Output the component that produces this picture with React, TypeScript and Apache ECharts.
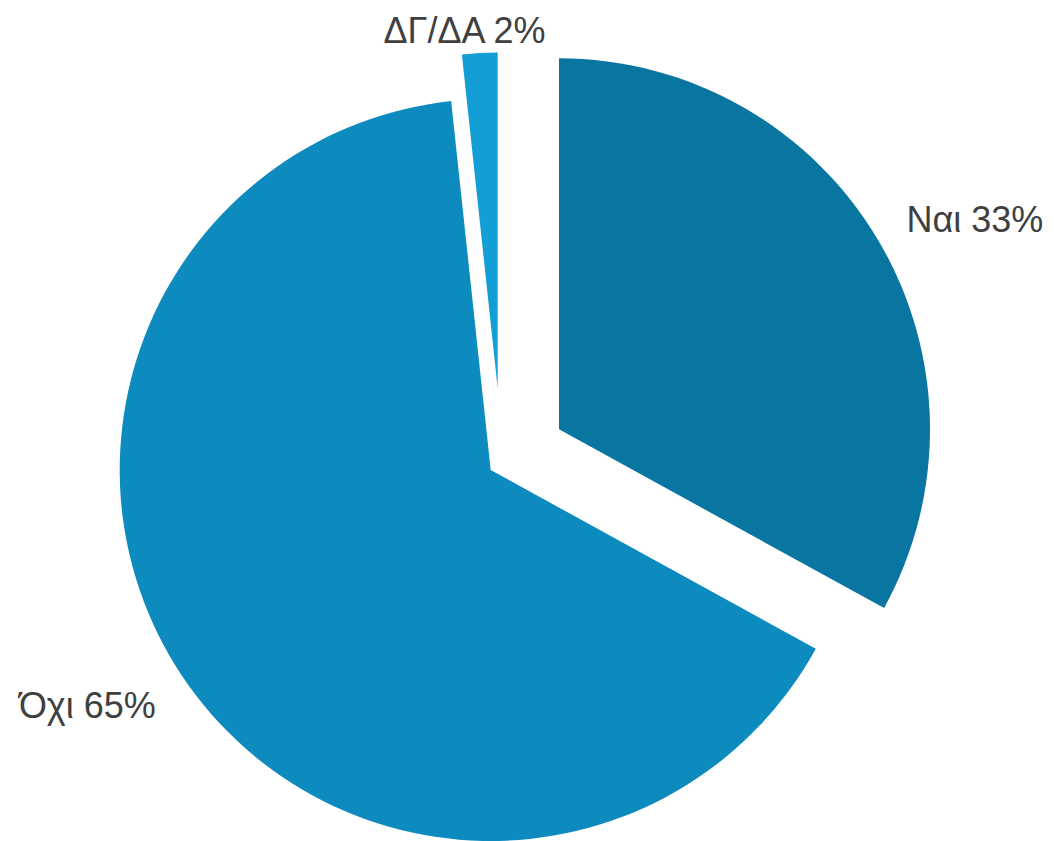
import React, { useEffect, useRef } from "react";
import * as echarts from "echarts";

const categories = ["Ναι", "Όχι", "ΔΓ/ΔΑ"];
const values = [33, 65.3, 1.7];
const colors = ["#0975a1", "#0e8bbe", "#139ed6"];

// per-slice layout (exploded pie: each slice drawn by its own series)
const centers: [number, number][] = [
  [559, 429.3],
  [490.7, 470],
  [497.7, 388.5],
];
const radii = [371, 371, 336];
const lineLen = [42, 53, 23];
const lineLen2 = [-13, -23, -72];

export default function App() {
  const ref = useRef<HTMLDivElement>(null);
  useEffect(() => {
    if (!ref.current) return;
    const chart = echarts.init(ref.current, undefined, { renderer: "svg" });
    const series = categories.map((_, s) => ({
      type: "pie",
      silent: true,
      center: centers[s],
      radius: radii[s],
      startAngle: 90,
      clockwise: true,
      avoidLabelOverlap: false,
      percentPrecision: 0,
      itemStyle: { borderWidth: 0 },
      labelLine: { show: false, length: lineLen[s], length2: lineLen2[s] },
      label: {
        show: true,
        position: "outside",
        alignTo: "none",
        formatter: "{b} {d}%",
        fontFamily: "Liberation Sans",
        fontSize: 36,
        color: "#404040",
      },
      emphasis: { disabled: true },
      data: categories.map((name, i) => ({
        name,
        value: values[i],
        itemStyle: { color: i === s ? colors[i] : "rgba(0,0,0,0)" },
        label: { show: i === s },
      })),
    }));
    chart.setOption({
      animation: false,
      backgroundColor: "#ffffff",
      series,
    });
    return () => chart.dispose();
  }, []);
  return (
    <div
      ref={ref}
      style={{ position: "fixed", left: 0, top: 0, width: 1054, height: 841 }}
    />
  );
}
